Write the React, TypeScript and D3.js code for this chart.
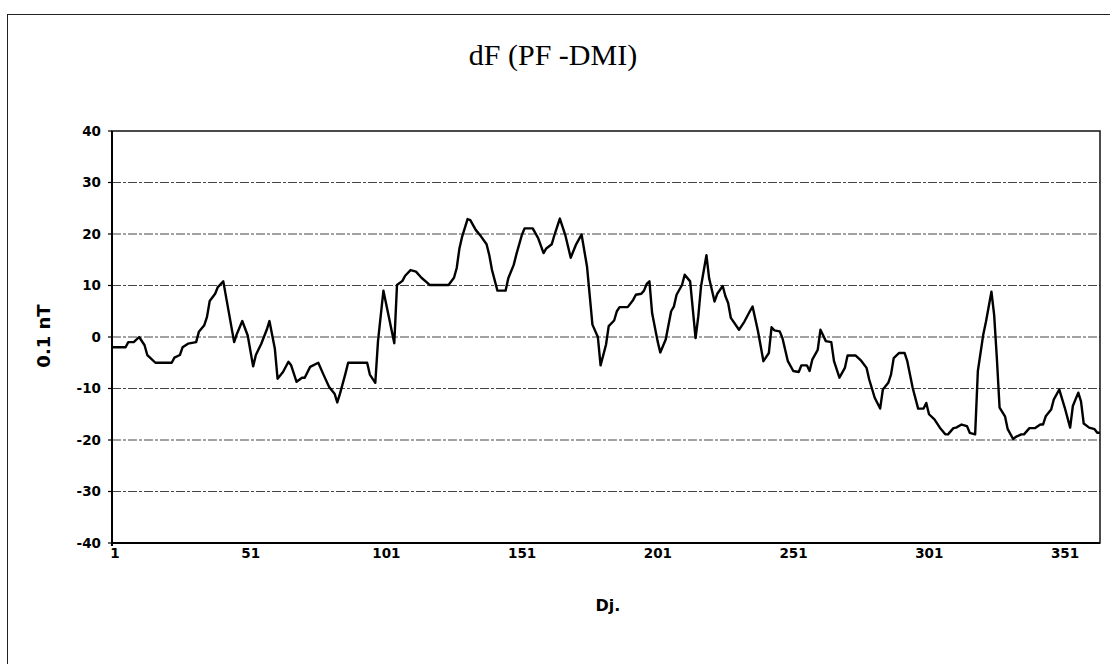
import React from 'react';
import * as d3 from 'd3';

// day of year (Dj.) and dF in 0.1 nT
const days = [
  1, 6, 7, 9, 11, 13, 14, 15, 17, 23, 24, 26, 27, 29, 32, 33, 35, 36, 37, 39,
  40, 42, 46, 47, 49, 51, 53, 54, 56, 58, 59, 61, 62, 64, 66, 67, 69, 71, 72, 74,
  77, 79, 81, 83, 84, 85, 87, 88, 95, 96, 98, 99, 101, 105, 106, 108, 109, 111, 113, 115,
  117, 118, 125, 127, 128, 129, 130, 132, 133, 135, 137, 139, 140, 141, 143, 146, 147, 149, 150, 152,
  153, 156, 158, 160, 161, 163, 164, 166, 168, 170, 172, 174, 176, 178, 180, 181, 183, 184, 186, 187,
  188, 191, 193, 194, 196, 197, 198, 199, 200, 202, 203, 205, 207, 208, 209, 211, 212, 214, 216, 217,
  218, 220, 221, 223, 224, 226, 227, 228, 229, 232, 234, 236, 237, 239, 240, 241, 243, 244, 245, 247,
  248, 250, 252, 254, 255, 257, 258, 259, 261, 262, 264, 266, 267, 269, 271, 272, 275, 277, 279, 280,
  282, 284, 285, 287, 288, 289, 291, 293, 294, 296, 298, 300, 301, 302, 304, 306, 308, 309, 311, 312,
  314, 316, 317, 319, 320, 322, 323, 325, 326, 327, 328, 330, 331, 333, 334, 336, 337, 339, 341, 343,
  344, 345, 347, 348, 350, 352, 354, 355, 357, 358, 359, 361, 363, 364, 365,
];

const dF = [
  -2, -2, -1, -1, 0, -1.6, -3.5, -4, -5, -5, -4, -3.5, -2, -1.3, -1, 1, 2.3, 3.9, 7, 8.4,
  9.7, 10.8, -1, 0.6, 3.1, 0.3, -5.7, -3.5, -1.3, 1.4, 3.1, -2.3, -8.1, -6.8, -4.8, -5.5, -8.7, -7.9, -7.9, -5.8,
  -5, -7.4, -9.7, -11, -12.7, -11, -7.1, -5, -5, -7.3, -8.9, -0.8, 9, -1.2, 10.1, 10.9, 11.9, 13, 12.7, 11.5,
  10.6, 10.1, 10.1, 11.5, 13.4, 17.2, 19.5, 22.9, 22.7, 20.8, 19.5, 18, 15.9, 13, 9, 9, 11.4, 14, 16.1, 19.8,
  21.1, 21.1, 19.2, 16.3, 17.2, 18, 19.8, 23, 19.8, 15.4, 18, 19.9, 13.7, 2.4, 0, -5.5, -1.5, 2.1, 3.2, 5,
  5.8, 5.8, 7.2, 8.2, 8.4, 9, 10.3, 10.8, 4.6, -0.8, -3, -0.5, 5, 5.9, 8.2, 10.1, 12.1, 10.8, -0.2, 4,
  9.8, 15.9, 11.4, 6.9, 8.4, 9.9, 7.9, 6.6, 3.7, 1.4, 3, 5, 5.9, 1.1, -1.8, -4.7, -3.1, 1.9, 1.3, 1.1,
  -0.2, -4.7, -6.6, -6.8, -5.5, -5.5, -6.6, -4.4, -2.5, 1.4, -0.8, -1, -4.7, -7.9, -6, -3.6, -3.6, -4.6, -6, -8.3,
  -11.8, -13.9, -10.2, -8.9, -7.3, -4.1, -3.1, -3.1, -4.7, -9.9, -13.9, -13.9, -12.8, -15, -16, -17.6, -18.9, -18.9, -17.7, -17.6,
  -17, -17.3, -18.6, -18.9, -6.6, 0.5, 3, 8.8, 4.3, -4.1, -13.7, -15.4, -17.9, -19.8, -19.4, -18.9, -18.9, -17.7, -17.7, -17,
  -17, -15.4, -14.1, -12.1, -10.2, -13.7, -17.6, -13.4, -10.8, -12.5, -16.8, -17.6, -17.9, -18.6, -18.6,
];

const yTicks = [40, 30, 20, 10, 0, -10, -20, -30, -40];
const xTicks = [1, 51, 101, 151, 201, 251, 301, 351];

const title = 'dF (PF -DMI)';
const xTitle = 'Dj.';
const yTitle = '0.1 nT';

const W = 1110;
const H = 664;
const plot = { left: 112, right: 1100, top: 131, bottom: 543 };

const App = () => {
  const x = d3.scaleLinear().domain([1, 365]).range([plot.left, plot.right]);
  const y = d3.scaleLinear().domain([-40, 40]).range([plot.bottom, plot.top]);

  const points = days.map((d, i) => [d, dF[i]] as [number, number]);
  const line = d3.line<[number, number]>()
    .x(d => x(d[0]))
    .y(d => y(d[1]));

  const axisFont = '"DejaVu Sans", Verdana, sans-serif';

  return (
    <svg
      width={W}
      height={H}
      style={{ position: 'absolute', left: 0, top: 0, display: 'block', background: '#fff' }}
    >
      {/* outer chart frame, runs past the page edge */}
      <rect x={7.5} y={14.5} width={W + 20} height={H + 20} fill="none" stroke="#222" strokeWidth={1} />

      <text
        x={553}
        y={65}
        textAnchor="middle"
        fontFamily='"Liberation Serif", "Times New Roman", serif'
        fontSize={30}
        fill="#000"
      >
        {title}
      </text>

      {/* grid */}
      {yTicks.filter(t => t !== 40 && t !== -40).map(t => (
        <line
          key={'g' + t}
          x1={plot.left}
          x2={plot.right}
          y1={y(t)}
          y2={y(t)}
          stroke="#444"
          strokeWidth={1}
          strokeDasharray="9 2 3 2"
        />
      ))}

      {/* plot frame */}
      <rect
        x={plot.left}
        y={plot.top}
        width={plot.right - plot.left}
        height={plot.bottom - plot.top}
        fill="none"
        stroke="#111"
        strokeWidth={1.5}
      />
      <line x1={plot.left} x2={plot.left} y1={plot.top} y2={plot.bottom + 3} stroke="#000" strokeWidth={2} />
      <line x1={plot.left} x2={plot.right} y1={plot.bottom} y2={plot.bottom} stroke="#000" strokeWidth={2} />

      {/* y axis ticks and labels */}
      {yTicks.map(t => (
        <g key={'y' + t}>
          <line x1={plot.left - 4} x2={plot.left} y1={y(t)} y2={y(t)} stroke="#000" strokeWidth={1.2} />
          <text
            x={101}
            y={y(t)}
            dy="0.36em"
            textAnchor="end"
            fontFamily={axisFont}
            fontWeight="bold"
            fontSize={13.5}
            fill="#000"
          >
            {t}
          </text>
        </g>
      ))}

      {/* x axis labels */}
      {xTicks.map(t => (
        <text
          key={'x' + t}
          x={x(t) + 3}
          y={558}
          textAnchor="middle"
          fontFamily={axisFont}
          fontWeight="bold"
          fontSize={13.5}
          fill="#000"
        >
          {t}
        </text>
      ))}

      <text
        x={608}
        y={611}
        textAnchor="middle"
        fontFamily={axisFont}
        fontWeight="bold"
        fontSize={16}
        fill="#000"
      >
        {xTitle}
      </text>

      <text
        transform={`translate(50,336) rotate(-90)`}
        textAnchor="middle"
        fontFamily={axisFont}
        fontWeight="bold"
        fontSize={18}
        fill="#000"
      >
        {yTitle}
      </text>

      <path d={line(points) || ''} fill="none" stroke="#000" strokeWidth={2.4} strokeLinejoin="round" />
    </svg>
  );
};

export default App;
